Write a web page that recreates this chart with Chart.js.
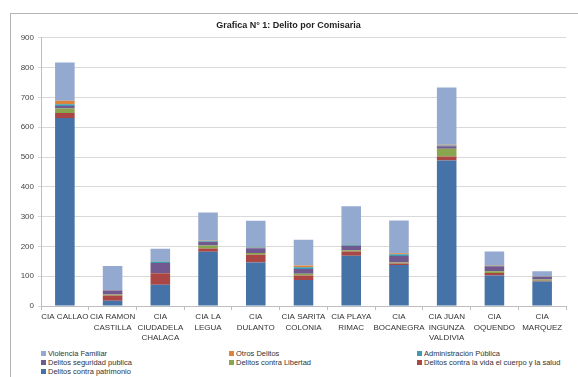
<!DOCTYPE html>
<html>
<head>
<meta charset="utf-8">
<script src="https://cdn.jsdelivr.net/npm/chart.js@4/dist/chart.umd.min.js"></script>
<style>
  body { margin: 0; background: #fff; }
  #frame { position: absolute; left: 10px; top: 13px; width: 580px; height: 380px;
           border-left: 1px solid #b4b4b4; border-top: 1px solid #b4b4b4; }
  #wrap { position: absolute; left: 0; top: 0; width: 578px; height: 346px; }
  #legend { position: absolute; left: 41px; top: 349px; display: grid;
            grid-template-columns: 188px 188px 160px; row-gap: 0;
            font: 7.5px "Liberation Sans", Arial, sans-serif; color: #333; }
  #legend div { height: 9.2px; line-height: 9.2px; white-space: nowrap; }
  #legend span { display: inline-block; width: 5px; height: 5px; margin-right: 2px; vertical-align: 0px; }
</style>
</head>
<body>
<div id="frame"></div>
<div id="wrap"><canvas id="myChart" width="578" height="346"></canvas></div>
<div id="legend"></div>
<script>
const comisarias = [
  ["CIA CALLAO"], ["CIA RAMON", "CASTILLA"], ["CIA", "CIUDADELA", "CHALACA"],
  ["CIA LA", "LEGUA"], ["CIA", "DULANTO"], ["CIA SARITA", "COLONIA"],
  ["CIA PLAYA", "RIMAC"], ["CIA", "BOCANEGRA"], ["CIA JUAN", "INGUNZA", "VALDIVIA"],
  ["CIA", "OQUENDO"], ["CIA", "MARQUEZ"],
];
const patrimonio = [631, 18, 71, 182, 146, 87, 169, 138, 488, 102, 82];
const vidaCuerpoSalud = [17, 17, 39, 11, 26, 15, 14, 5, 14, 9, 3];
const libertad = [15, 4, 1, 10, 6, 6, 4, 3, 26, 6, 4];
const seguridadPublica = [8, 13, 33, 12, 16, 16, 15, 22, 8, 16, 9];
const administracion = [6, 1, 5, 2, 2, 6, 4, 6, 3, 2, 1];
const otrosDelitos = [12, 1, 1, 2, 2, 6, 1, 3, 2, 2, 1];
const violenciaFamiliar = [128, 80, 42, 95, 88, 86, 128, 110, 192, 46, 17];

const fontFam = '"Liberation Sans", Arial, sans-serif';

function serie(label, data, color) {
  return { label: label, data: data, backgroundColor: color, borderWidth: 0,
           categoryPercentage: 1, barPercentage: 0.41 };
}

const ctx = document.getElementById("myChart").getContext("2d");
const chart = new Chart(ctx, {
  type: "bar",
  data: {
    labels: comisarias,
    datasets: [
      serie("Delitos contra patrimonio", patrimonio, "#4572A7"),
      serie("Delitos contra la vida el cuerpo y la salud", vidaCuerpoSalud, "#AA4643"),
      serie("Delitos contra Libertad", libertad, "#89A54E"),
      serie("Delitos seguridad publica", seguridadPublica, "#71588F"),
      serie("Administración Pública", administracion, "#4198AF"),
      serie("Otros Delitos", otrosDelitos, "#DB843D"),
      serie("Violencia Familiar", violenciaFamiliar, "#93A9CF"),
    ],
  },
  options: {
    responsive: false,
    animation: false,
    layout: { padding: { left: 11, right: 12, top: 13, bottom: 0 } },
    plugins: {
      legend: { display: false },
      tooltip: { enabled: false },
      title: {
        display: true,
        text: "Grafica N° 1: Delito por Comisaria",
        color: "#222",
        font: { family: fontFam, size: 9, weight: "bold" },
        padding: { top: 7, bottom: 7 },
      },
    },
    scales: {
      x: {
        stacked: true,
        grid: { offset: true, drawOnChartArea: false, drawTicks: true, tickLength: 4, color: "#bdbdbd" },
        border: { color: "#bdbdbd" },
        ticks: { color: "#333", padding: 2, autoSkip: false, maxRotation: 0,
                 font: { family: fontFam, size: 8, lineHeight: 1.3 } },
        afterFit: (s) => { s.height = 40; },
      },
      y: {
        stacked: true,
        min: 0, max: 900,
        ticks: { stepSize: 100, color: "#444", padding: 4, font: { family: fontFam, size: 8 } },
        grid: { color: "#d9d9d9", tickLength: 3 },
        border: { color: "#bdbdbd" },
        afterFit: (s) => { s.width = 30; },
      },
    },
  },
});

// leyenda en tres columnas como en el original
const legendEl = document.getElementById("legend");
chart.data.datasets.slice().reverse().forEach((ds) => {
  const d = document.createElement("div");
  const sq = document.createElement("span");
  sq.style.background = ds.backgroundColor;
  d.appendChild(sq);
  d.appendChild(document.createTextNode(ds.label));
  legendEl.appendChild(d);
});
</script>
</body>
</html>
